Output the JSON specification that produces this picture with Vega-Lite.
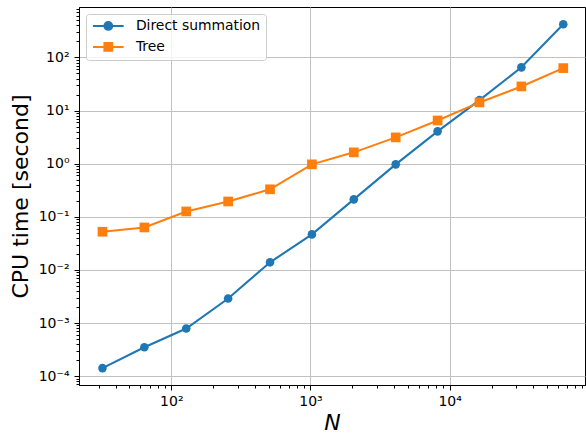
{
  "$schema": "https://vega.github.io/schema/vega-lite/v6.json",
  "width": 506,
  "height": 378,
  "autosize": "none",
  "padding": {"left": 79, "top": 7, "right": 1, "bottom": 48},
  "background": "white",
  "config": {
    "font": "DejaVu Sans",
    "view": {"stroke": "black", "strokeWidth": 1},
    "axis": {
      "labelFont": "DejaVu Sans", "labelFontSize": 14, "labelColor": "black",
      "tickColor": "black", "domainColor": "black", "domainWidth": 1,
      "gridColor": "#c0c0c0", "gridWidth": 1, "gridOpacity": 1,
      "titleFont": "DejaVu Sans", "titleFontSize": 22, "titleFontWeight": "normal", "titleColor": "black"
    },
    "legend": {
      "orient": "top-left", "offset": 7, "padding": 5,
      "strokeColor": "#cccccc", "fillColor": "rgba(255,255,255,0.8)", "cornerRadius": 3,
      "labelFont": "DejaVu Sans", "labelFontSize": 13.9, "labelColor": "black",
      "rowPadding": 4, "symbolSize": 100, "labelOffset": 31
    }
  },
  "data": {
    "values": [
      {"N": 32, "series": "Direct summation", "t": 0.000142},
      {"N": 64, "series": "Direct summation", "t": 0.000351},
      {"N": 128, "series": "Direct summation", "t": 0.00079},
      {"N": 256, "series": "Direct summation", "t": 0.0029},
      {"N": 512, "series": "Direct summation", "t": 0.0139},
      {"N": 1024, "series": "Direct summation", "t": 0.0466},
      {"N": 2048, "series": "Direct summation", "t": 0.213},
      {"N": 4096, "series": "Direct summation", "t": 0.97},
      {"N": 8192, "series": "Direct summation", "t": 4.05},
      {"N": 16384, "series": "Direct summation", "t": 15.7},
      {"N": 32768, "series": "Direct summation", "t": 64.9},
      {"N": 65536, "series": "Direct summation", "t": 419},
      {"N": 32, "series": "Tree", "t": 0.0523},
      {"N": 64, "series": "Tree", "t": 0.063},
      {"N": 128, "series": "Tree", "t": 0.126},
      {"N": 256, "series": "Tree", "t": 0.194},
      {"N": 512, "series": "Tree", "t": 0.329},
      {"N": 1024, "series": "Tree", "t": 0.97},
      {"N": 2048, "series": "Tree", "t": 1.63},
      {"N": 4096, "series": "Tree", "t": 3.12},
      {"N": 8192, "series": "Tree", "t": 6.5},
      {"N": 16384, "series": "Tree", "t": 14.2},
      {"N": 32768, "series": "Tree", "t": 28.4},
      {"N": 65536, "series": "Tree", "t": 62.8}
    ]
  },
  "layer": [
    {
      "mark": {"type": "line", "strokeWidth": 2.08},
      "encoding": {
        "x": {"field": "N", "type": "quantitative",
          "scale": {"type": "log", "domain": [21.7, 93900], "nice": false, "zero": false},
          "axis": {"values": [20,30,40,50,60,70,80,90,200,300,400,500,600,700,800,900,2000,3000,4000,5000,6000,7000,8000,9000,20000,30000,40000,50000,60000,70000,80000,90000],
            "labels": false, "grid": false, "tickSize": 3, "domain": false, "title": null, "orient": "bottom"}},
        "y": {"field": "t", "type": "quantitative",
          "scale": {"type": "log", "domain": [6.83e-5, 887], "nice": false, "zero": false},
          "axis": {"values": [0.00007,0.00008,0.00009,0.0002,0.0003,0.0004,0.0005,0.0006,0.0007,0.0008,0.0009,0.002,0.003,0.004,0.005,0.006,0.007,0.008,0.009,0.02,0.03,0.04,0.05,0.06,0.07,0.08,0.09,0.2,0.3,0.4,0.5,0.6,0.7,0.8,0.9,2,3,4,5,6,7,8,9,20,30,40,50,60,70,80,90,200,300,400,500,600,700,800],
            "labels": false, "grid": false, "tickSize": 3, "domain": false, "title": null, "orient": "left"}},
        "color": {"field": "series", "type": "nominal",
          "scale": {"domain": ["Direct summation", "Tree"], "range": ["#1f77b4", "#ff7f0e"]},
          "legend": {"title": null, "labelOffset": 31,
            "encode": {"symbols": {"update": {
              "shape": {"signal": "datum.value == 'Tree' ? 'M-1,0H5.14M1.3,-0.77H2.84V0.77H1.3Z' : 'M-1,0H5.14M1.3,0A0.77,0.77,0,1,0,2.84,0A0.77,0.77,0,1,0,1.3,0Z'"},
              "fill": {"signal": "datum.value == 'Tree' ? '#ff7f0e' : '#1f77b4'"},
              "stroke": {"signal": "datum.value == 'Tree' ? '#ff7f0e' : '#1f77b4'"},
              "strokeWidth": {"value": 2.08},
              "size": {"value": 100},
              "opacity": {"value": 1}
            }}}}}
      }
    },
    {
      "transform": [{"filter": "datum.series == 'Direct summation'"}],
      "mark": {"type": "point", "filled": true, "opacity": 1, "shape": "circle", "size": 74},
      "encoding": {
        "x": {"field": "N", "type": "quantitative",
          "scale": {"type": "log", "domain": [21.7, 93900], "nice": false, "zero": false},
          "axis": {"values": [100, 1000, 10000], "grid": true,
            "labelExpr": "datum.value == 100 ? '10²' : datum.value == 1000 ? '10³' : '10⁴'",
            "tickSize": 5, "labelPadding": 4, "title": "N", "titleFontStyle": "italic", "titlePadding": 4, "orient": "bottom"}},
        "y": {"field": "t", "type": "quantitative",
          "scale": {"type": "log", "domain": [6.83e-5, 887], "nice": false, "zero": false},
          "axis": {"values": [0.0001, 0.001, 0.01, 0.1, 1, 10, 100], "grid": true,
            "labelExpr": "datum.value < 0.0002 ? '10⁻⁴' : datum.value < 0.002 ? '10⁻³' : datum.value < 0.02 ? '10⁻²' : datum.value < 0.2 ? '10⁻¹' : datum.value < 2 ? '10⁰' : datum.value < 20 ? '10¹' : '10²'",
            "tickSize": 5, "labelPadding": 5, "title": "CPU time [second]", "titlePadding": 6, "orient": "left"}},
        "color": {"field": "series", "type": "nominal",
          "scale": {"domain": ["Direct summation", "Tree"], "range": ["#1f77b4", "#ff7f0e"]},
          "legend": {"title": null, "labelOffset": 31,
            "encode": {"symbols": {"update": {
              "shape": {"signal": "datum.value == 'Tree' ? 'M-1,0H5.14M1.3,-0.77H2.84V0.77H1.3Z' : 'M-1,0H5.14M1.3,0A0.77,0.77,0,1,0,2.84,0A0.77,0.77,0,1,0,1.3,0Z'"},
              "fill": {"signal": "datum.value == 'Tree' ? '#ff7f0e' : '#1f77b4'"},
              "stroke": {"signal": "datum.value == 'Tree' ? '#ff7f0e' : '#1f77b4'"},
              "strokeWidth": {"value": 2.08},
              "size": {"value": 100},
              "opacity": {"value": 1}
            }}}}}
      }
    },
    {
      "transform": [{"filter": "datum.series == 'Tree'"}],
      "mark": {"type": "point", "filled": true, "opacity": 1, "shape": "square", "size": 94},
      "encoding": {
        "x": {"field": "N", "type": "quantitative",
          "scale": {"type": "log", "domain": [21.7, 93900], "nice": false, "zero": false},
          "axis": null},
        "y": {"field": "t", "type": "quantitative",
          "scale": {"type": "log", "domain": [6.83e-5, 887], "nice": false, "zero": false},
          "axis": null},
        "color": {"field": "series", "type": "nominal",
          "scale": {"domain": ["Direct summation", "Tree"], "range": ["#1f77b4", "#ff7f0e"]},
          "legend": {"title": null, "labelOffset": 31,
            "encode": {"symbols": {"update": {
              "shape": {"signal": "datum.value == 'Tree' ? 'M-1,0H5.14M1.3,-0.77H2.84V0.77H1.3Z' : 'M-1,0H5.14M1.3,0A0.77,0.77,0,1,0,2.84,0A0.77,0.77,0,1,0,1.3,0Z'"},
              "fill": {"signal": "datum.value == 'Tree' ? '#ff7f0e' : '#1f77b4'"},
              "stroke": {"signal": "datum.value == 'Tree' ? '#ff7f0e' : '#1f77b4'"},
              "strokeWidth": {"value": 2.08},
              "size": {"value": 100},
              "opacity": {"value": 1}
            }}}}}
      }
    }
  ],
  "resolve": {"axis": {"x": "independent", "y": "independent"}}
}
